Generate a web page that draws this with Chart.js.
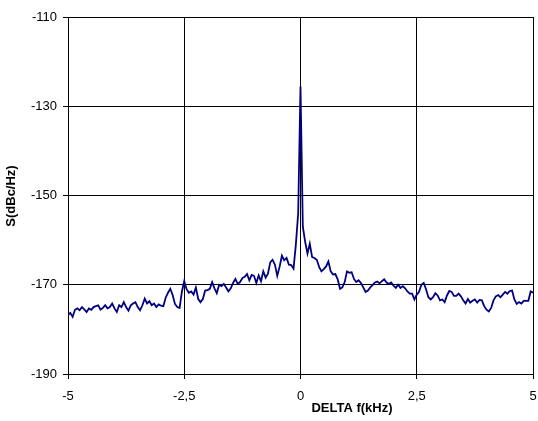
<!DOCTYPE html>
<html>
<head>
<meta charset="utf-8">
<script src="https://cdn.jsdelivr.net/npm/chart.js@4/dist/chart.umd.min.js"></script>
<style>
  html, body { margin: 0; padding: 0; background: #fff; }
  #wrap { width: 538px; height: 421px; position: relative; }
</style>
</head>
<body>
<div id="wrap"><canvas id="chart"></canvas></div>
<script>
// frequency offset grid (kHz), 0.05 kHz step
const freqStart = -5;
const freqStep = 0.05;

// spectrum S (dBc/Hz)
const levelsA = [ // -5.00 .. -3.05
  -176.8, -176.3, -177.2, -175.6, -175.3, -175.7, -175.0, -175.5, -176.1, -175.3,
  -175.6, -175.0, -174.8, -174.6, -175.6, -175.2, -174.6, -175.3, -175.0, -174.2,
  -175.3, -176.1, -174.6, -175.0, -173.9, -175.0, -175.8, -174.6, -174.2, -173.9,
  -175.0, -175.7, -174.6, -173.1, -174.2, -173.7, -174.6, -174.2, -175.0, -174.4
];
const levelsB = [ // -3.00 .. -1.05
  -174.7, -174.8, -172.9, -171.8, -170.9, -172.3, -174.3, -175.0, -175.2, -171.5,
  -169.2, -171.0, -171.8, -171.5, -172.2, -170.6, -173.2, -173.9, -173.2, -171.3,
  -171.2, -170.9, -169.4, -170.8, -171.9, -170.0, -170.3, -169.8, -170.6, -171.5,
  -170.8, -169.6, -168.7, -169.8, -169.4, -168.5, -168.2, -167.6, -169.0, -167.8
];
const levelsC = [ // -1.00 .. 0.95
  -168.0, -169.6, -167.9, -169.2, -167.0, -168.4, -167.5, -165.0, -164.4, -165.5,
  -168.0, -166.0, -163.5, -164.5, -164.0, -165.5, -165.6, -166.4, -161.0, -154.0,
  -125.6, -157.0, -160.4, -163.0, -160.8, -163.8, -164.0, -164.4, -166.0, -167.0,
  -166.5, -165.9, -164.8, -167.0, -167.7, -167.6, -168.8, -170.9, -170.6, -169.4
];
const levelsD = [ // 1.00 .. 2.95
  -167.0, -167.3, -167.2, -168.7, -169.4, -169.0, -169.6, -170.6, -171.6, -171.3,
  -170.6, -170.1, -169.5, -169.3, -169.7, -169.2, -168.8, -169.5, -169.8, -169.5,
  -170.2, -170.7, -170.0, -170.7, -170.3, -170.8, -171.5, -172.0, -172.0, -173.3,
  -172.2, -171.6, -170.0, -169.6, -171.0, -172.8, -173.3, -172.8, -171.9, -172.4
];
const levelsE = [ // 3.00 .. 5.00
  -173.5, -173.3, -173.9, -172.4, -171.4, -171.6, -172.5, -172.5, -172.0, -172.6,
  -173.5, -174.2, -173.2, -174.0, -173.6, -173.3, -174.0, -173.4, -173.5, -174.8,
  -175.6, -176.0, -175.2, -173.5, -172.6, -172.3, -172.8, -172.2, -171.6, -172.0,
  -171.4, -171.3, -173.3, -174.3, -173.9, -174.2, -173.6, -173.6, -173.6, -171.5,
  -171.8
];

const xTicks = [-5, -2.5, 0, 2.5, 5];
const xTickLabels = ['-5', '-2,5', '0', '2,5', '5'];
const yTicks = [-190, -170, -150, -130, -110];

const xTitle = 'DELTA f(kHz)';
const yTitle = 'S(dBc/Hz)';

const levels = [].concat(levelsA, levelsB, levelsC, levelsD, levelsE);
const points = levels.map((v, i) => ({
  x: Math.round((freqStart + i * freqStep) * 100) / 100,
  y: v,
}));

const FONT = '"Liberation Sans", Arial, sans-serif';

const axisTitles = {
  id: 'axisTitles',
  afterDraw(chart) {
    const ctx = chart.ctx;
    ctx.save();
    ctx.fillStyle = '#000';
    ctx.font = 'bold 13px ' + FONT;
    ctx.textAlign = 'center';
    ctx.textBaseline = 'middle';
    ctx.fillText(xTitle, 352, 408);
    ctx.translate(11, 196);
    ctx.rotate(-Math.PI / 2);
    ctx.fillText(yTitle, 0, 0);
    ctx.restore();
  },
};

const whiteBg = {
  id: 'whiteBg',
  beforeDraw(chart) {
    const ctx = chart.ctx;
    ctx.save();
    ctx.fillStyle = '#fff';
    ctx.fillRect(0, 0, chart.width, chart.height);
    ctx.restore();
  },
};

new Chart(document.getElementById('chart'), {
  type: 'line',
  data: {
    datasets: [{
      data: points,
      parsing: false,
      borderColor: '#000080',
      borderWidth: 1.8,
      pointRadius: 0,
      tension: 0,
      fill: false,
    }],
  },
  options: {
    responsive: true,
    maintainAspectRatio: false,
    animation: false,
    devicePixelRatio: 1,
    layout: {
      padding: { left: 0, top: 17, right: 5, bottom: 0 },
    },
    plugins: {
      legend: { display: false },
      tooltip: { enabled: false },
    },
    scales: {
      x: {
        type: 'linear',
        min: -5,
        max: 5,
        afterBuildTicks(scale) {
          scale.ticks = xTicks.map(v => ({ value: v }));
        },
        afterFit(scale) {
          scale.height = 47;
          scale.paddingLeft = 0;
          scale.paddingRight = 0;
        },
        ticks: {
          color: '#000',
          font: { family: FONT, size: 13 },
          padding: 10,
          maxRotation: 0,
          autoSkip: false,
          callback(value) {
            const i = xTicks.indexOf(value);
            return i >= 0 ? xTickLabels[i] : '';
          },
        },
        grid: {
          color: '#000',
          lineWidth: 1,
          tickLength: 5,
        },
        border: { color: '#000', width: 1 },
      },
      y: {
        type: 'linear',
        min: -190,
        max: -110,
        afterBuildTicks(scale) {
          scale.ticks = yTicks.map(v => ({ value: v }));
        },
        afterFit(scale) {
          scale.width = 68;
          scale.paddingTop = 0;
          scale.paddingBottom = 0;
        },
        ticks: {
          color: '#000',
          font: { family: FONT, size: 13 },
          padding: 6,
        },
        grid: {
          color: '#000',
          lineWidth: 1,
          tickLength: 5,
        },
        border: { color: '#000', width: 1 },
      },
    },
  },
  plugins: [whiteBg, axisTitles],
});
</script>
</body>
</html>
